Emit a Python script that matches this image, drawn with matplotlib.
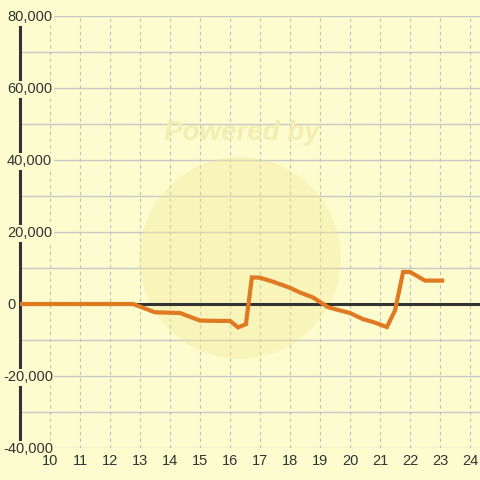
"""Кривая P&L по часам, воссоздание графика."""

import matplotlib
matplotlib.use("Agg")
import matplotlib.pyplot as plt
from matplotlib.patches import Circle
from matplotlib.transforms import blended_transform_factory

# данные
hours = [9.0, 12.77, 13.5, 14.33, 15.0, 15.67, 16.0, 16.27, 16.53, 16.73, 17.0, 17.43,
         18.0, 18.33, 18.77, 19.27, 19.67, 20.0, 20.43, 20.77, 21.23, 21.5, 21.77, 22.0,
         22.5, 23.07]
pnl = [0, 0, -2300, -2500, -4600, -4700, -4700, -6500, -5600, 7400, 7300, 6200,
       4500, 3200, 1800, -900, -1800, -2500, -4200, -5000, -6400, -1800, 8900, 8900,
       6500, 6500]

y_ticks = [80000, 60000, 40000, 20000, 0, -20000, -40000]
x_ticks = list(range(10, 25))

BG = "#FCFCCF"
TEXT = "#333333"

plt.rcParams["font.family"] = ["Liberation Sans", "DejaVu Sans"]

fig = plt.figure(figsize=(4.8, 4.8), dpi=100, facecolor=BG)
ax = fig.add_axes([20 / 480, 32 / 480, 460 / 480, 432 / 480])
ax.set_facecolor(BG)
ax.set_xlim(9, 24.333)
ax.set_ylim(-40000, 80000)

# сетка
for yv in range(-40000, 80001, 10000):
    ax.axhline(yv, color="#C8C8C8", lw=1.0, zorder=1)
for xv in x_ticks:
    ax.axvline(xv, color="#C0C0C0", lw=0.8, ls=(0, (3, 3)), zorder=1)

# водяной знак
wm = Circle((240 / 480, (480 - 258) / 480), 0.21, transform=fig.transFigure,
            facecolor="#F6E690", edgecolor="none", alpha=0.35, zorder=1.5)
ax.add_patch(wm)
ax.text(242 / 480, (480 - 133) / 480, "Powered by", transform=fig.transFigure,
        ha="center", va="center", fontsize=20, fontweight="bold",
        fontstyle="italic", color="#F3EDB0", zorder=1.6)

ax.axhline(0, color=TEXT, lw=2.2, zorder=2)
ax.plot(hours, pnl, color="#E07A22", lw=3.0, solid_joinstyle="miter", zorder=3)

for s in ["top", "right", "bottom"]:
    ax.spines[s].set_visible(False)
ax.spines["left"].set_color(TEXT)
ax.spines["left"].set_linewidth(2.2)
ax.set_xticks([])
ax.set_yticks([])

# подписи оси Y поверх оси, с фоном
tr = blended_transform_factory(fig.transFigure, ax.transData)
for yv in y_ticks:
    ax.text(3 / 480 if yv < 0 else 7 / 480, yv - 400, f"{yv:,}", transform=tr,
            ha="left", va="center", fontsize=10.5, color=TEXT, clip_on=False,
            zorder=6, bbox=dict(facecolor=BG, edgecolor="none", pad=1.0))

for xv in x_ticks:
    ax.text(xv, -40000 - 1800, str(xv), ha="center", va="top", fontsize=10.5,
            color=TEXT, clip_on=False, zorder=6)

fig.savefig("out.png", dpi=100, facecolor=BG)
